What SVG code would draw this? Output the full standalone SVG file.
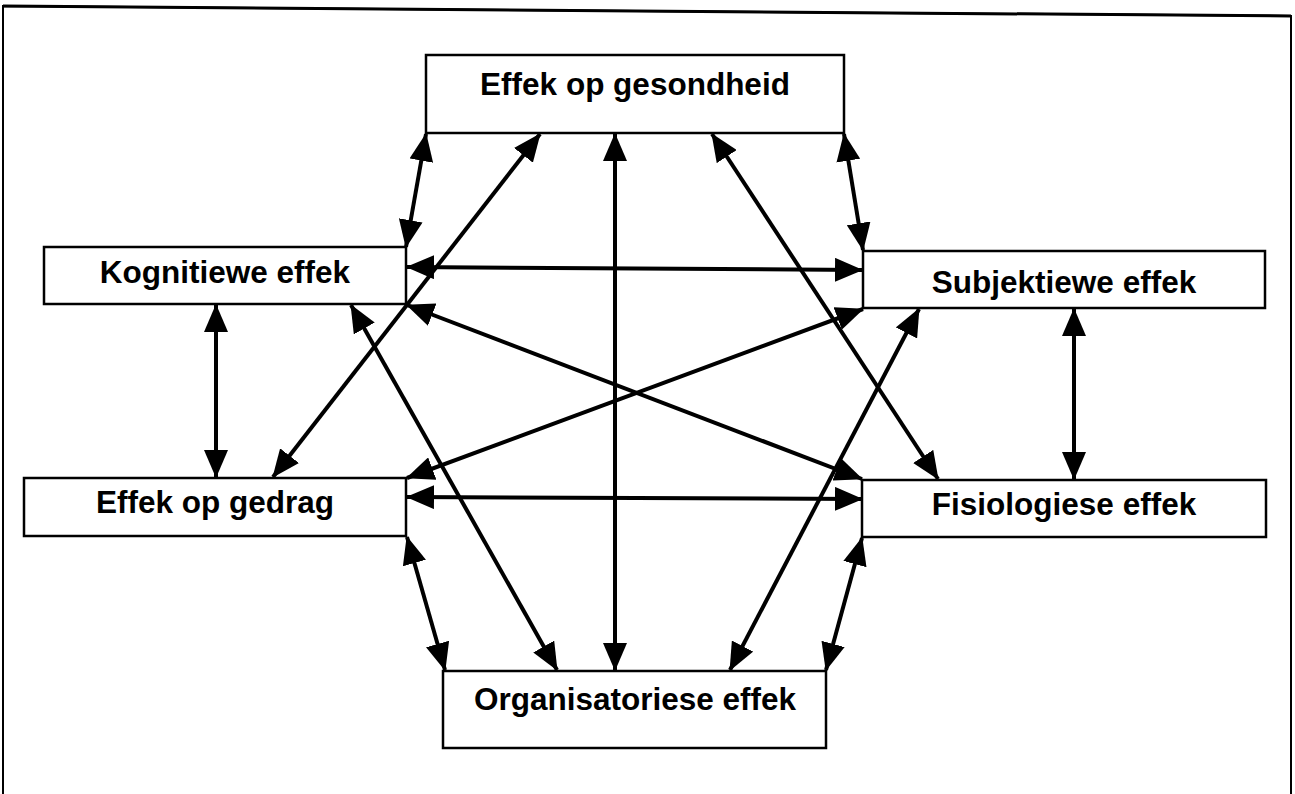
<svg xmlns="http://www.w3.org/2000/svg" width="1295" height="794" viewBox="0 0 1295 794">
  <style>
    .frame { fill: none; stroke: #000; stroke-width: 2; }
    .frame-top { fill: none; stroke: #000; stroke-width: 3; }
    .box { fill: #fff; stroke: #000; stroke-width: 2.5; }
    .label { font-family: "Liberation Sans", Arial, sans-serif; font-weight: bold; font-size: 31.5px; text-anchor: middle; fill: #000; }
    .link { fill: none; stroke: #000; stroke-width: 4; marker-start: url(#head); marker-end: url(#head); }
  </style>
  <defs>
    <marker id="head" viewBox="0 0 28 24" refX="27" refY="12" markerWidth="28" markerHeight="24" markerUnits="userSpaceOnUse" orient="auto-start-reverse">
      <path d="M0,0 L28,12 L0,24 Z" fill="#000"/>
    </marker>
  </defs>

  <rect width="1295" height="794" fill="#fff"/>

  <!-- outer frame -->
  <polyline class="frame" points="3,800 3,6 1291,16 1291,800"/>
  <line class="frame-top" x1="3" y1="6" x2="1291" y2="16"/>

  <!-- connectors -->
  <g id="connectors">
    <line class="link" x1="426" y1="134" x2="406" y2="247"/>
    <line class="link" x1="540" y1="134" x2="273" y2="477"/>
    <line class="link" x1="615" y1="134" x2="615" y2="670"/>
    <line class="link" x1="712" y1="134" x2="938" y2="479"/>
    <line class="link" x1="844" y1="134" x2="863" y2="250"/>
    <line class="link" x1="407" y1="267" x2="862" y2="270"/>
    <line class="link" x1="407" y1="305" x2="862" y2="479"/>
    <line class="link" x1="351" y1="305" x2="557" y2="670"/>
    <line class="link" x1="216" y1="305" x2="216" y2="477"/>
    <line class="link" x1="863" y1="309" x2="407" y2="478"/>
    <line class="link" x1="919" y1="309" x2="730" y2="670"/>
    <line class="link" x1="1074" y1="309" x2="1074" y2="479"/>
    <line class="link" x1="407" y1="497" x2="862" y2="499"/>
    <line class="link" x1="407" y1="537" x2="445" y2="670"/>
    <line class="link" x1="862" y1="538" x2="826" y2="670"/>
  </g>

  <!-- nodes -->
  <g id="node-gesondheid">
    <rect class="box" x="426" y="55" width="418" height="78"/>
    <text class="label" x="635" y="95">Effek op gesondheid</text>
  </g>
  <g id="node-kognitiewe">
    <rect class="box" x="44" y="247" width="362" height="57"/>
    <text class="label" x="225" y="283">Kognitiewe effek</text>
  </g>
  <g id="node-subjektiewe">
    <rect class="box" x="863" y="251" width="402" height="57"/>
    <text class="label" x="1064" y="293">Subjektiewe effek</text>
  </g>
  <g id="node-gedrag">
    <rect class="box" x="24" y="478" width="382" height="58"/>
    <text class="label" x="215" y="513">Effek op gedrag</text>
  </g>
  <g id="node-fisiologiese">
    <rect class="box" x="862" y="480" width="404" height="57"/>
    <text class="label" x="1064" y="515">Fisiologiese effek</text>
  </g>
  <g id="node-organisatoriese">
    <rect class="box" x="443" y="671" width="383" height="77"/>
    <text class="label" x="635" y="710">Organisatoriese effek</text>
  </g>
</svg>
